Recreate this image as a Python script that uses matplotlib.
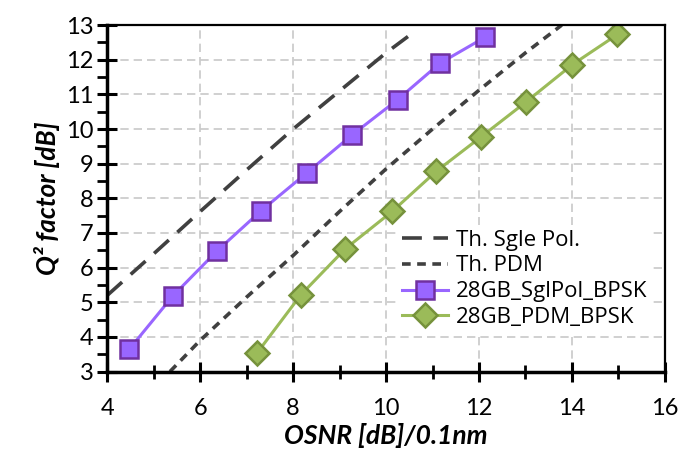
import matplotlib.pyplot as plt
from matplotlib.ticker import MultipleLocator

# measured points
sgl_osnr = [4.47, 5.41, 6.36, 7.31, 8.3, 9.26, 10.25, 11.16, 12.13]
sgl_q = [3.64, 5.18, 6.48, 7.64, 8.74, 9.82, 10.85, 11.9, 12.65]
pdm_osnr = [7.22, 8.17, 9.12, 10.13, 11.08, 12.05, 13.01, 14.01, 14.98]
pdm_q = [3.53, 5.22, 6.54, 7.62, 8.78, 9.78, 10.78, 11.86, 12.73]

# theory curves
th_sgl_osnr = [4, 5, 6, 7, 8, 9, 10, 10.6]
th_sgl_q = [5.2, 6.4, 7.62, 8.82, 10.0, 11.1, 12.2, 12.8]
th_pdm_osnr = [5.35, 6, 7, 8, 9, 10, 11, 12, 13, 13.78]
th_pdm_q = [3.0, 3.9, 5.15, 6.35, 7.62, 8.85, 10.0, 11.12, 12.2, 13.0]

plt.rcParams['font.family'] = ['Lato', 'DejaVu Sans']

fig = plt.figure(figsize=(6.94, 4.65), dpi=100)
ax = fig.add_axes([0.1546, 0.201, 0.8034, 0.745])

ax.plot(th_sgl_osnr, th_sgl_q, color='#404040', lw=2.6,
        dashes=(5.5, 3.2), label='Th. Sgle Pol.')
ax.plot(th_pdm_osnr, th_pdm_q, color='#404040', lw=2.6,
        dashes=(2.4, 1.8), label='Th. PDM')
ax.plot(sgl_osnr, sgl_q, color='#9966ff', lw=2.2, marker='s', ms=13.5,
        mfc='#9966ff', mec='#7030a0', mew=1.8, label='28GB_SglPol_BPSK')
ax.plot(pdm_osnr, pdm_q, color='#9bbb59', lw=2.2, marker='D', ms=12,
        mfc='#9bbb59', mec='#76923c', mew=1.8, label='28GB_PDM_BPSK')

ax.set_xlim(4, 16)
ax.set_ylim(3, 13)
ax.xaxis.set_major_locator(MultipleLocator(2))
ax.xaxis.set_minor_locator(MultipleLocator(1))
ax.yaxis.set_major_locator(MultipleLocator(1))
ax.yaxis.set_minor_locator(MultipleLocator(0.5))

ax.grid(True, which='major', color='#c8c8c8', ls=(0, (5, 3)), lw=1.2)
ax.set_axisbelow(True)

for s in ['left', 'bottom']:
    ax.spines[s].set_linewidth(2.5)
for s in ['top', 'right']:
    ax.spines[s].set_linewidth(1.6)

ax.tick_params(which='major', direction='inout', length=14, width=2.2,
               labelsize=17, colors='black')
ax.tick_params(axis='y', which='minor', direction='out', length=7, width=2)
ax.tick_params(axis='x', which='minor', direction='inout', length=10, width=2)
ax.tick_params(axis='x', which='major', pad=12)
ax.tick_params(axis='y', which='major', pad=3)

ax.set_xlabel('OSNR [dB]/0.1nm', fontsize=19, fontweight='bold',
              fontstyle='italic', labelpad=3)
ax.set_ylabel('Q\u00b2 factor [dB]', fontsize=19, fontweight='bold',
              fontstyle='italic', labelpad=4)

leg = ax.legend(loc='lower right', bbox_to_anchor=(0.997, 0.08),
                prop={'family': ['Open Sans', 'DejaVu Sans'], 'size': 16},
                frameon=True, fancybox=False, edgecolor='none',
                facecolor='white', framealpha=1, handlelength=2.1,
                labelspacing=0.22, borderpad=0.2, handletextpad=0.35)

fig.savefig('out.png', dpi=100)
